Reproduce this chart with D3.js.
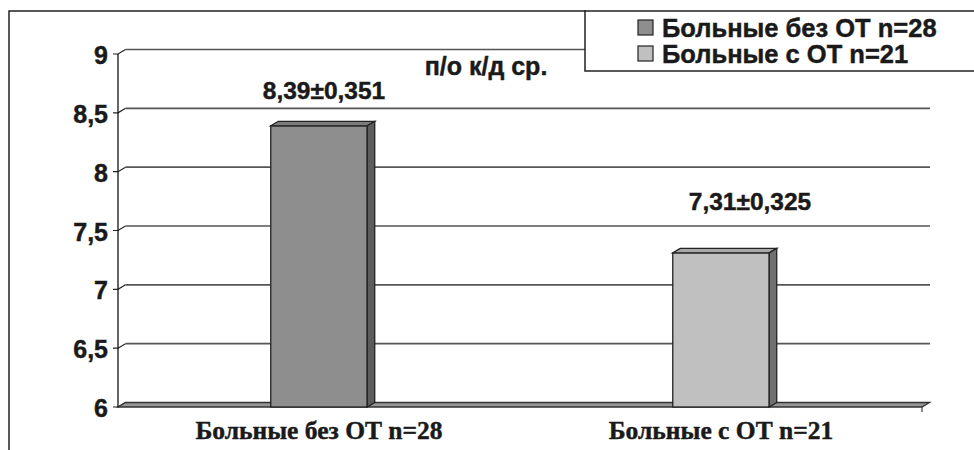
<!DOCTYPE html>
<html><head><meta charset="utf-8">
<script src="https://cdn.jsdelivr.net/npm/d3@7"></script>
<style>
html,body{margin:0;padding:0;background:#fff;}
svg{display:block;}
text{stroke:#1a1a1a;stroke-width:0.45px;}
</style></head>
<body>
<svg id="c" width="974" height="450"></svg>
<script>
const categories = ["Больные без ОТ n=28", "Больные с ОТ n=21"];
const values = [8.39, 7.31];
const valueLabels = ["8,39±0,351", "7,31±0,325"];
const seriesNames = ["Больные без ОТ n=28", "Больные с ОТ n=21"];
const yTicks = [6, 6.5, 7, 7.5, 8, 8.5, 9];
const yTickLabels = ["6", "6,5", "7", "7,5", "8", "8,5", "9"];
const unitLabel = "п/о к/д ср.";

const frontColors = ["#8e8e8e", "#c0c0c0"];
const topColors = ["#7c7c7c", "#a8a8a8"];
const sideColors = ["#5c5c5c", "#707070"];

const svg = d3.select("#c");
const sans = "'Liberation Sans', Arial, sans-serif";
const serif = "'Liberation Serif', 'Times New Roman', serif";

const x0 = 118, x1 = 922, yBottom = 407, yTop = 54;
const dx = 7.5, dy = -4.5;

const y = d3.scaleLinear().domain([6, 9]).range([yBottom, yTop]);
const x = d3.scaleBand().domain(categories).range([x0, x1]).padding(0);
const barFrac = 0.24;
const bw = x.bandwidth() * barFrac;
const cx = c => x(c) + x.bandwidth() / 2;

// outer frame
svg.append("path").attr("d", `M9,450 L9,11 L586,11`).attr("fill", "none").attr("stroke", "#222").attr("stroke-width", 1.5);

// gridlines (back wall)
const g = svg.append("g");
g.selectAll("line.grid").data(yTicks.filter(d => d > 6)).join("line")
  .attr("x1", x0 + dx).attr("x2", x1 + dx + 0.5)
  .attr("y1", d => y(d) + dy).attr("y2", d => y(d) + dy)
  .attr("stroke", "#555").attr("stroke-width", 1.6);

// tick connectors
g.selectAll("path.tk").data(yTicks).join("path")
  .attr("d", d => `M${x0 - 5},${y(d)} L${x0},${y(d)} L${x0 + dx},${y(d) + dy}`)
  .attr("fill", "none").attr("stroke", "#222").attr("stroke-width", 1.2);

// floor
svg.append("path")
  .attr("d", `M${x0},${yBottom} L${x0 + dx},${yBottom + dy} L${x1 + dx},${yBottom + dy} L${x1},${yBottom} Z`)
  .attr("fill", "#959595").attr("stroke", "#333").attr("stroke-width", 1.3);
svg.append("line").attr("x1", x1).attr("x2", x1).attr("y1", yBottom).attr("y2", yBottom + 5)
  .attr("stroke", "#444").attr("stroke-width", 1.2);

// y axis line
svg.append("line").attr("x1", x0).attr("x2", x0).attr("y1", y(9)).attr("y2", yBottom)
  .attr("stroke", "#111").attr("stroke-width", 1.3);

// y tick labels
svg.selectAll("text.yl").data(yTicks).join("text")
  .attr("x", x0 - 10).attr("y", d => y(d) + 10)
  .attr("text-anchor", "end").attr("font-family", sans).attr("font-weight", "bold")
  .attr("font-size", 25).attr("fill", "#1a1a1a")
  .text((d, i) => yTickLabels[i]);

// bars
const bars = svg.append("g");
categories.forEach((c, i) => {
  const bx = cx(c) - bw / 2, by = y(values[i]);
  const bg = bars.append("g");
  bg.append("rect").attr("x", bx).attr("y", by).attr("width", bw).attr("height", yBottom - by)
    .attr("fill", frontColors[i]).attr("stroke", "#222").attr("stroke-width", 1.3);
  bg.append("path")
    .attr("d", `M${bx},${by} L${bx + dx},${by + dy} L${bx + bw + dx},${by + dy} L${bx + bw},${by} Z`)
    .attr("fill", topColors[i]).attr("stroke", "#222").attr("stroke-width", 1.3);
  bg.append("path")
    .attr("d", `M${bx + bw},${by} L${bx + bw + dx},${by + dy} L${bx + bw + dx},${yBottom + dy} L${bx + bw},${yBottom} Z`)
    .attr("fill", sideColors[i]).attr("stroke", "#222").attr("stroke-width", 1.3);
});

// value labels
const labelOffsets = [[5, -27], [29, -43]];
svg.selectAll("text.vl").data(values).join("text")
  .attr("x", (d, i) => cx(categories[i]) + labelOffsets[i][0])
  .attr("y", (d, i) => y(d) + labelOffsets[i][1])
  .attr("text-anchor", "middle").attr("font-family", sans).attr("font-weight", "bold")
  .attr("font-size", 24.5).attr("fill", "#1a1a1a")
  .text((d, i) => valueLabels[i]);

// unit label
svg.append("text").attr("x", 486).attr("y", 75).attr("text-anchor", "middle")
  .attr("font-family", sans).attr("font-weight", "bold").attr("font-size", 25).attr("fill", "#1a1a1a")
  .text(unitLabel);

// category labels
svg.selectAll("text.cl").data(categories).join("text")
  .attr("x", d => cx(d)).attr("y", 439)
  .attr("text-anchor", "middle").attr("font-family", serif).attr("font-weight", "bold")
  .attr("font-size", 25.5).attr("fill", "#1a1a1a")
  .text(d => d);

// legend
const lg = svg.append("g");
lg.append("rect").attr("x", 585).attr("y", 11).attr("width", 400).attr("height", 60)
  .attr("fill", "#fff").attr("stroke", "#222").attr("stroke-width", 1.5);
seriesNames.forEach((s, i) => {
  lg.append("rect").attr("x", 638).attr("y", 20 + i * 26).attr("width", 15).attr("height", 15)
    .attr("fill", frontColors[i]).attr("stroke", "#222").attr("stroke-width", 1.2);
  lg.append("text").attr("x", 662).attr("y", 37 + i * 25.5)
    .attr("font-family", sans).attr("font-weight", "bold").attr("font-size", 25.5).attr("fill", "#1a1a1a")
    .text(s);
});
</script>
</body></html>
